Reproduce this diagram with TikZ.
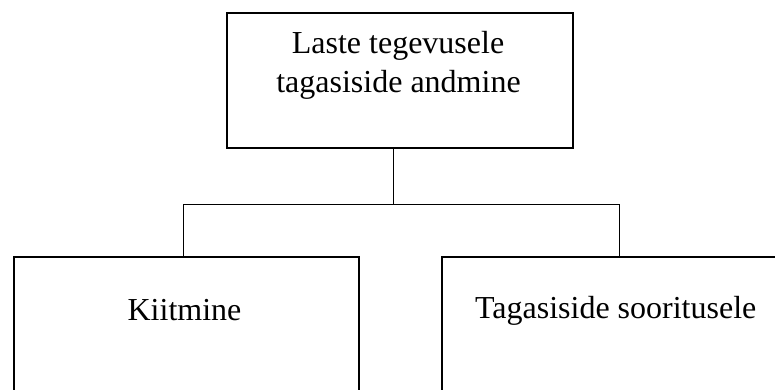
\documentclass[tikz,border=0pt]{standalone}
\usepackage{fontspec}
\setmainfont{Liberation Serif}
\begin{document}
\begin{tikzpicture}[x=1pt,y=-1pt,
  boxstyle/.style={draw=black, line width=2pt, inner sep=0pt, anchor=north west},
  wire/.style={draw=black, line width=0.9pt},
  label text/.style={font=\fontsize{32}{39}\selectfont, inner sep=0pt, align=center}]
\useasboundingbox (0,0) rectangle (775,389);
\clip (0,0) rectangle (775,389);
% boxes
\node[boxstyle, minimum width=346.5pt, minimum height=135pt] (top) at (225.5,12) {};
\node[boxstyle, minimum width=345pt, minimum height=160pt] (left) at (12.7,256) {};
\node[boxstyle, minimum width=345pt, minimum height=160pt] (right) at (441,256) {};
% texts
\node[label text, anchor=base] (ttop1) at (398,53) {Laste tegevusele};
\node[label text, anchor=base] (ttop2) at (398.5,92) {tagasiside andmine};
\node[label text, anchor=base] (tleft) at (184.5,320) {Kiitmine};
\node[label text, anchor=base] (tright) at (615.7,318) {Tagasiside sooritusele};
% connectors
\coordinate (j) at (393.7,204.5);
\coordinate (hl) at (183.3,204.5);
\coordinate (hr) at (619.7,204.5);
\draw[wire] (top.south -| j) -- (j);
\draw[wire] (left.north -| hl) -- (hl) -- (hr) -- (right.north -| hr);
\end{tikzpicture}
\end{document}
